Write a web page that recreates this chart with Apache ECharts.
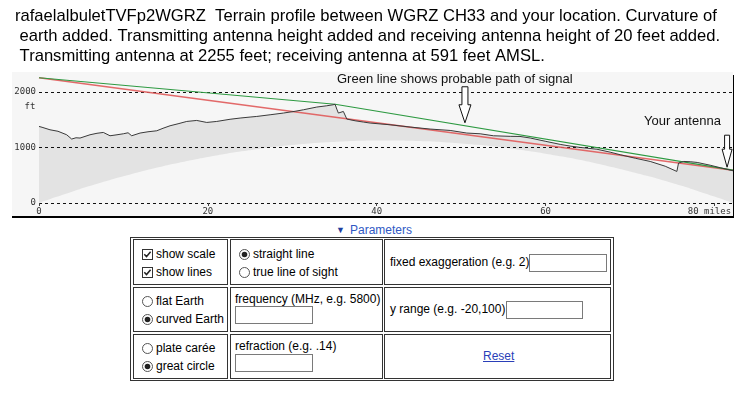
<!DOCTYPE html>
<html><head><meta charset="utf-8">
<script src="https://cdn.jsdelivr.net/npm/echarts@6/dist/echarts.min.js"></script>
<style>
html,body{margin:0;padding:0;background:#fff;width:747px;height:393px;overflow:hidden;font-family:'Liberation Sans',Arial,sans-serif;}
#chart{position:absolute;left:0;top:0;width:747px;height:222px;}
.a{position:absolute;white-space:nowrap;font-size:12px;color:#000;line-height:14px;}
.box{position:absolute;border:1px solid #333;box-sizing:border-box;}
.inp{position:absolute;border:1px solid #7a7a7a;box-sizing:border-box;background:#fff;}
svg.a{overflow:visible;}
</style></head><body>
<div id="chart"></div>

<div class="a" style="left:336px;top:223px;color:#1f3f9f;font-size:9px;">&#9660;</div>
<div class="a" style="left:350px;top:223px;color:#2f58c4;">Parameters</div>

<div class="box" style="left:130px;top:237px;width:484px;height:144px;"></div>
<div class="box" style="left:133px;top:239px;width:95px;height:46px;"></div>
<div class="box" style="left:230px;top:239px;width:153px;height:46px;"></div>
<div class="box" style="left:384px;top:239px;width:227px;height:46px;"></div>
<div class="box" style="left:133px;top:287px;width:95px;height:45px;"></div>
<div class="box" style="left:230px;top:287px;width:153px;height:45px;"></div>
<div class="box" style="left:384px;top:287px;width:227px;height:45px;"></div>
<div class="box" style="left:133px;top:334px;width:95px;height:45px;"></div>
<div class="box" style="left:230px;top:334px;width:153px;height:45px;"></div>
<div class="box" style="left:384px;top:334px;width:227px;height:45px;"></div>

<svg class="a" style="left:142px;top:249px" width="11" height="11"><rect x="0.5" y="0.5" width="10" height="10" fill="#fff" stroke="#333"/><path d="M2.3 5.3 L4.5 7.6 L8.6 2.8" stroke="#222" stroke-width="1.5" fill="none"/></svg>
<div class="a" style="left:156px;top:247px;">show scale</div>
<svg class="a" style="left:142px;top:267px" width="11" height="11"><rect x="0.5" y="0.5" width="10" height="10" fill="#fff" stroke="#333"/><path d="M2.3 5.3 L4.5 7.6 L8.6 2.8" stroke="#222" stroke-width="1.5" fill="none"/></svg>
<div class="a" style="left:156px;top:265px;">show lines</div>

<svg class="a" style="left:239px;top:249px" width="11" height="11"><circle cx="5.5" cy="5.5" r="5" fill="#fff" stroke="#555"/><circle cx="5.5" cy="5.5" r="2.8" fill="#222"/></svg>
<div class="a" style="left:253px;top:247px;">straight line</div>
<svg class="a" style="left:239px;top:267px" width="11" height="11"><circle cx="5.5" cy="5.5" r="5" fill="#fff" stroke="#555"/></svg>
<div class="a" style="left:253px;top:265px;">true line of sight</div>

<div class="a" style="left:390px;top:255px;">fixed exaggeration (e.g. 2)</div>
<div class="inp" style="left:529px;top:254px;width:78px;height:18px;"></div>

<svg class="a" style="left:142px;top:296px" width="11" height="11"><circle cx="5.5" cy="5.5" r="5" fill="#fff" stroke="#555"/></svg>
<div class="a" style="left:156px;top:294px;">flat Earth</div>
<svg class="a" style="left:142px;top:314px" width="11" height="11"><circle cx="5.5" cy="5.5" r="5" fill="#fff" stroke="#555"/><circle cx="5.5" cy="5.5" r="2.8" fill="#222"/></svg>
<div class="a" style="left:156px;top:312px;">curved Earth</div>

<div class="a" style="left:235px;top:292px;">frequency (MHz, e.g. 5800)</div>
<div class="inp" style="left:235px;top:306px;width:78px;height:18px;"></div>

<div class="a" style="left:390px;top:302px;">y range (e.g. -20,100)</div>
<div class="inp" style="left:506px;top:301px;width:77px;height:18px;"></div>

<svg class="a" style="left:142px;top:343px" width="11" height="11"><circle cx="5.5" cy="5.5" r="5" fill="#fff" stroke="#555"/></svg>
<div class="a" style="left:156px;top:341px;">plate carée</div>
<svg class="a" style="left:142px;top:361px" width="11" height="11"><circle cx="5.5" cy="5.5" r="5" fill="#fff" stroke="#555"/><circle cx="5.5" cy="5.5" r="2.8" fill="#222"/></svg>
<div class="a" style="left:156px;top:359px;">great circle</div>

<div class="a" style="left:235px;top:339px;">refraction (e.g. .14)</div>
<div class="inp" style="left:235px;top:354px;width:78px;height:18px;"></div>

<div class="a" style="left:483px;top:349px;color:#2a3fb8;text-decoration:underline;">Reset</div>

<script>
// ---- data (miles along path, feet with earth curvature added) ----
const terrainMiles = [0,0.36,1.30,2.25,3.28,3.87,4.38,4.86,6.04,6.87,7.62,8.41,9.24,9.99,10.55,10.98,11.97,12.91,13.95,14.69,15.52,16.47,17.50,18.68,19.87,21.05,22.63,23.82,25.00,25.79,27.37,28.95,30.33,31.32,32.90,34.09,34.83,35.07,35.27,35.46,35.66,36.05,36.46,36.65,37.44,38.42,39.22,41.59,43.96,46.33,48.70,50.67,52.25,53.83,55.81,56.97,58.18,59.95,61.73,62.90,64.10,66.08,67.65,68.84,70.62,72.39,74.17,75.55,75.75,76.36,77.13,77.96,79.50,80.69,82.2];
const terrainFt = [1378,1363,1318,1291,1228,1151,1174,1169,1228,1255,1270,1210,1228,1246,1264,1210,1259,1282,1300,1345,1390,1426,1468,1486,1450,1468,1507,1529,1547,1558,1588,1619,1651,1678,1727,1750,1768,1777,1691,1619,1619,1648,1511,1498,1480,1457,1439,1408,1367,1331,1306,1259,1246,1210,1200,1198,1170,1112,1055,1025,1000,968,915,869,806,748,662,568,719,748,743,730,680,635,580];
const bulgeMiles = [0,2,4,6,8,10,12,14,16,18,20,22,24,26,28,30,32,34,36,38,40,42,44,46,48,50,52,54,56,58,60,62,64,66,68,70,72,74,76,78,80,82.2];
const bulgeFt = [0,107,209,305,396,481,562,637,706,770,829,883,931,974,1012,1044,1071,1093,1109,1120,1125,1126,1121,1110,1094,1073,1047,1015,978,936,888,835,777,713,644,569,490,405,314,218,117,0];
const straightMiles = [0,82.2];
const straightFt = [2255,591];
const pathMiles = [0,35.07,82.2];
const pathFt = [2255,1777,591];
const xTicks = [0,20,40,60,80];
const yTicks = [0,1000,2000];
const arrowMiles = [50.45,81.5];
const titleLines = [
  'rafaelalbuletTVFp2WGRZ  Terrain profile between WGRZ CH33 and your location. Curvature of',
  ' earth added. Transmitting antenna height added and receiving antenna height of 20 feet added.',
  ' Transmitting antenna at 2255 feet; receiving antenna at 591 feet AMSL.'
];

const F = '"Liberation Sans", Arial, sans-serif';
const MONO = '"DejaVu Sans Mono", monospace';
const BG = '#f6f6f6';
const pairs = (xs, ys) => xs.map((x, i) => [x, ys[i]]);

const chart = echarts.init(document.getElementById('chart'), null, {renderer: 'canvas'});
chart.setOption({
  animation: false,
  grid: {left: 39, top: 72, width: 694, height: 131, containLabel: false},
  xAxis: {
    type: 'value', min: 0, max: 82.2, z: 10,
    splitLine: {show: false},
    axisLine: {show: false},
    axisTick: {show: true, customValues: xTicks, length: 3, lineStyle: {color: '#444'}},
    axisLabel: {customValues: xTicks,
      formatter: v => v === 80 ? '{m|80 miles}' : String(v),
      rich: {m: {fontFamily: MONO, fontSize: 9, color: '#333', padding: [0, 10, 0, 0]}},
      fontFamily: MONO, fontSize: 9, color: '#333', margin: 4}
  },
  yAxis: {
    type: 'value', min: 0, max: 2358, z: 10,
    splitLine: {show: false}, axisLine: {show: false}, axisTick: {show: false},
    axisLabel: {customValues: yTicks, formatter: v => String(v), fontFamily: MONO, fontSize: 9, color: '#333', margin: 3}
  },
  series: [
    {type: 'line', data: pairs(terrainMiles, terrainFt), symbol: 'none', z: 2,
      lineStyle: {width: 0, opacity: 0}, areaStyle: {color: '#e3e3e3', origin: 'start', opacity: 1}},
    {type: 'line', data: pairs(bulgeMiles, bulgeFt), symbol: 'none', smooth: true, z: 3,
      lineStyle: {width: 0, opacity: 0}, areaStyle: {color: BG, origin: 'start', opacity: 1}},
    {type: 'line', data: [], z: 4,
      markLine: {silent: true, symbol: 'none', label: {show: false},
        lineStyle: {color: '#111', type: [3, 3], width: 1},
        data: yTicks.map(v => ({yAxis: v}))}},
    {type: 'line', data: pairs(straightMiles, straightFt), symbol: 'none', z: 5,
      lineStyle: {color: '#e05a5a', width: 1.5, opacity: 0.9}},
    {type: 'line', data: pairs(pathMiles, pathFt), symbol: 'none', z: 6,
      lineStyle: {color: '#2e9a42', width: 1.1}},
    {type: 'line', data: pairs(terrainMiles, terrainFt), symbol: 'none', z: 7,
      lineStyle: {color: '#3a3a3a', width: 1}}
  ]
});

function greenAt(m) {
  for (let i = 0; i < pathMiles.length - 1; i++) {
    if (m <= pathMiles[i + 1]) {
      const t = (m - pathMiles[i]) / (pathMiles[i + 1] - pathMiles[i]);
      return pathFt[i] + t * (pathFt[i + 1] - pathFt[i]);
    }
  }
  return pathFt[pathFt.length - 1];
}
function arrow(tx, ty, L, sw, hw, hl) {
  return {type: 'polygon', z: 100, shape: {points: [
    [tx - sw, ty - L], [tx + sw, ty - L], [tx + sw, ty - hl], [tx + hw, ty - hl],
    [tx, ty], [tx - hw, ty - hl], [tx - sw, ty - hl]]},
    style: {fill: '#fff', stroke: '#111', lineWidth: 1}};
}
const pZero = chart.convertToPixel({gridIndex: 0}, [82.2, 0]);
const pTop = chart.convertToPixel({gridIndex: 0}, [0, 2358]);
const bottomY = pZero[1] + 14;
const rightX = pZero[0];
const a1 = chart.convertToPixel({gridIndex: 0}, [arrowMiles[0], greenAt(arrowMiles[0])]);
const a2 = chart.convertToPixel({gridIndex: 0}, [arrowMiles[1], greenAt(arrowMiles[1])]);
const ftPos = chart.convertToPixel({gridIndex: 0}, [0, 1730]);

const g = [
  {type: 'rect', z: -10, shape: {x: 12, y: pTop[1], width: rightX - 12, height: bottomY - pTop[1]}, style: {fill: BG}},
  {type: 'line', z: 100, shape: {x1: 12, y1: bottomY, x2: rightX + 1, y2: bottomY}, style: {stroke: '#000', lineWidth: 2}},
  {type: 'line', z: 100, shape: {x1: rightX + 0.5, y1: pTop[1] + 3, x2: rightX + 0.5, y2: bottomY}, style: {stroke: '#000', lineWidth: 1}},
  {type: 'text', z: 100, style: {text: 'ft', x: ftPos[0] - 9, y: ftPos[1], font: '9px ' + MONO, fill: '#333', align: 'center', verticalAlign: 'middle'}},
  {type: 'text', z: 100, style: {text: 'Green line shows probable path of signal', x: 337, y: 79, font: '13px ' + F, fill: '#111', verticalAlign: 'middle'}},
  {type: 'text', z: 100, style: {text: 'Your antenna', x: 644, y: 121.5, font: '13px ' + F, fill: '#111', verticalAlign: 'middle'}},
  arrow(a1[0], a1[1] - 3, 36, 3, 6, 18),
  arrow(a2[0], a2[1] - 2, 32, 2.5, 5, 18)
];
titleLines.forEach((t, i) => g.push({type: 'text', z: 100,
  style: {text: t, x: 15, y: 16 + i * 20, font: '16.6px ' + F, fill: '#000', verticalAlign: 'middle'}}));
chart.setOption({graphic: g});
</script>
</body></html>
